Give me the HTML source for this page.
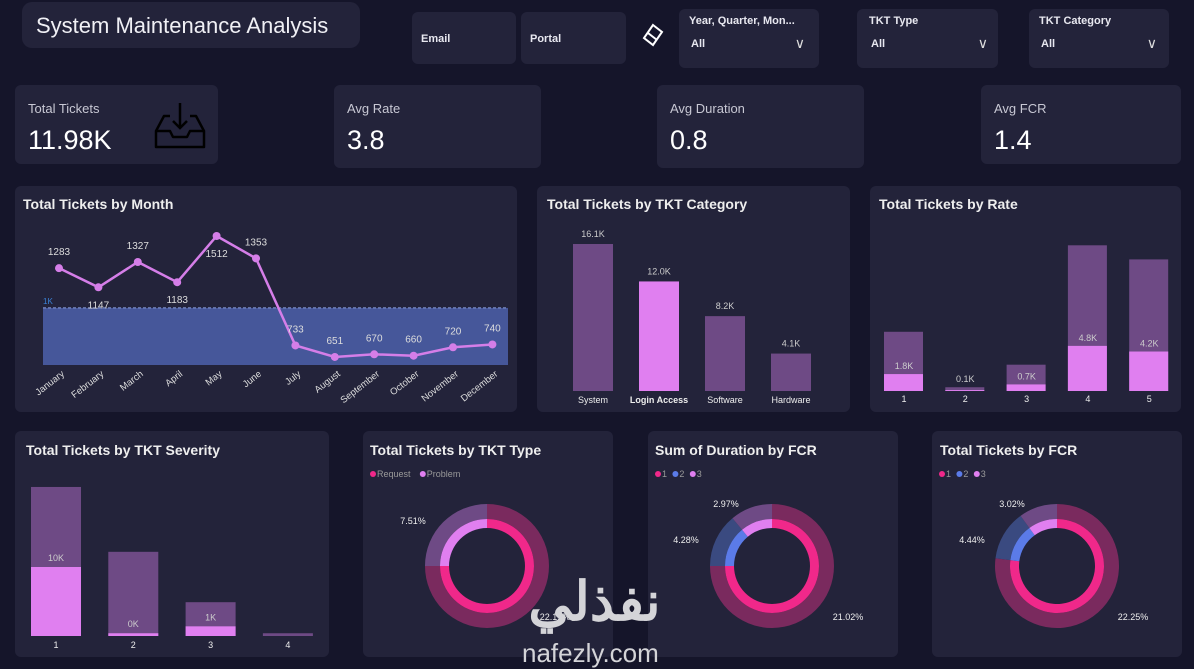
<!DOCTYPE html>
<html><head><meta charset="utf-8"><style>
*{box-sizing:border-box;margin:0;padding:0}
body{width:1194px;height:669px;background:#15152a;font-family:"Liberation Sans",sans-serif;color:#e8e8f0;position:relative;overflow:hidden}
.card{position:absolute;background:#23233a;border-radius:6px}
.ct{position:absolute;left:8px;top:10px;font-size:14px;font-weight:bold;color:#eee}
.kl{position:absolute;left:13px;top:16px;font-size:13px;color:#c8c8d4}
.kv{position:absolute;left:13px;top:40px;font-size:27px;color:#fff}
.fl{position:absolute;font-size:11px;font-weight:bold;color:#e8e8f0}
svg text{font-family:"Liberation Sans",sans-serif}
</style></head><body>
<div class="card" style="left:22px;top:2px;width:338px;height:46px;border-radius:10px"><div style="position:absolute;left:14px;top:11px;font-size:22px;color:#f0f0f5">System Maintenance Analysis</div></div>

<div class="card" style="left:412px;top:12px;width:104px;height:52px"><div class="fl" style="left:9px;top:21px">Email</div></div>
<div class="card" style="left:521px;top:12px;width:105px;height:52px"><div class="fl" style="left:9px;top:21px">Portal</div></div>
<svg style="position:absolute;left:640px;top:22px" width="26" height="26"><path d="M13 3 L22 10 L13 23 L4 16 Z M8 11 L17 18" fill="none" stroke="#fff" stroke-width="2"/></svg>
<div class="card" style="left:679px;top:9px;width:140px;height:59px"><div class="fl" style="left:10px;top:6px">Year, Quarter, Mon...</div><div class="fl" style="left:12px;top:29px">All</div><div style="position:absolute;right:14px;top:26px;font-size:14px;color:#ddd">&#8744;</div></div>
<div class="card" style="left:857px;top:9px;width:141px;height:59px"><div class="fl" style="left:12px;top:6px">TKT Type</div><div class="fl" style="left:14px;top:29px">All</div><div style="position:absolute;right:10px;top:26px;font-size:14px;color:#ddd">&#8744;</div></div>
<div class="card" style="left:1029px;top:9px;width:140px;height:59px"><div class="fl" style="left:10px;top:6px">TKT Category</div><div class="fl" style="left:12px;top:29px">All</div><div style="position:absolute;right:12px;top:26px;font-size:14px;color:#ddd">&#8744;</div></div>

<div class="card" style="left:15px;top:85px;width:203px;height:79px"><div class="kl">Total Tickets</div><div class="kv">11.98K</div>
<svg style="position:absolute;left:138px;top:14px" width="54" height="52"><path d="M17 17 L11 17 L3 32 L3 48 L51 48 L51 32 L43 17 L37 17" fill="none" stroke="#000" stroke-width="2.5" stroke-linejoin="round"/><path d="M3 32 L17 32 L20 38 L34 38 L37 32 L51 32" fill="none" stroke="#000" stroke-width="2.5" stroke-linejoin="round"/><path d="M27 4 L27 29 M20 22 L27 29 L34 22" fill="none" stroke="#000" stroke-width="2.5"/></svg></div>
<div class="card" style="left:334px;top:85px;width:207px;height:83px"><div class="kl">Avg Rate</div><div class="kv">3.8</div></div>
<div class="card" style="left:657px;top:85px;width:207px;height:83px"><div class="kl">Avg Duration</div><div class="kv">0.8</div></div>
<div class="card" style="left:981px;top:85px;width:200px;height:79px"><div class="kl">Avg FCR</div><div class="kv">1.4</div></div>

<div class="card" style="left:15px;top:186px;width:502px;height:226px"><div class="ct">Total Tickets by Month</div></div>
<div class="card" style="left:537px;top:186px;width:313px;height:226px"><div class="ct" style="left:10px">Total Tickets by TKT Category</div></div>
<div class="card" style="left:870px;top:186px;width:311px;height:226px"><div class="ct" style="left:9px">Total Tickets by Rate</div></div>
<div class="card" style="left:15px;top:431px;width:314px;height:226px"><div class="ct" style="left:11px;top:11px">Total Tickets by TKT Severity</div></div>
<div class="card" style="left:363px;top:431px;width:250px;height:226px"><div class="ct" style="left:7px;top:11px">Total Tickets by TKT Type</div></div>
<div class="card" style="left:648px;top:431px;width:250px;height:226px"><div class="ct" style="left:7px;top:11px">Sum of Duration by FCR</div></div>
<div class="card" style="left:932px;top:431px;width:250px;height:226px"><div class="ct" style="left:8px;top:11px">Total Tickets by FCR</div></div>

<svg id="g" style="position:absolute;left:0;top:0" width="1194" height="669"></svg>
<div style="position:absolute;left:522px;top:575px;width:145px;text-align:center;font-family:'Liberation Sans','Noto Sans CJK SC',sans-serif;font-size:54px;font-weight:bold;color:#d4d4d8;line-height:1">نفذلي</div>
<div style="position:absolute;left:522px;top:640px;font-size:26px;color:#d4d4d8;line-height:1">nafezly.com</div>

<script>
const months=["January","February","March","April","May","June","July","August","September","October","November","December"];
const monthVals=[1283,1147,1327,1183,1512,1353,733,651,670,660,720,740];
const catNames=["System","Login Access","Software","Hardware"];
const catVals=[16.1,12.0,8.2,4.1];
const rateNames=["1","2","3","4","5"];
const rateTotal=[6.3,0.4,2.8,15.5,14.0];
const rateSel=[1.8,0.1,0.7,4.8,4.2];
const sevNames=["1","2","3","4"];
const sevTotal=[21.6,12.2,4.9,0.4];
const sevSel=[10,0.4,1.4,0];
const sevLabels=["10K","0K","1K",""];
const typeNames=["Request","Problem"];
const typeVals=[75,25];
const durNames=["1","2","3"];
const durVals=[75,14,11];
const fcrNames=["1","2","3"];
const fcrVals=[77,13,10];

const g=document.getElementById('g');
function el(t,a,txt){const e=document.createElementNS('http://www.w3.org/2000/svg',t);for(const k in a)e.setAttribute(k,a[k]);if(txt!==undefined)e.textContent=txt;g.appendChild(e);return e;}

const mx=i=>59+i*39.4, my=v=>236+(1512-v)*0.1405;
let e=el('rect',{x:43,y:my(1000),width:465,height:365-my(1000),fill:'#46579a'});

e=el('line',{x1:43,x2:508,y1:my(1000),y2:my(1000),stroke:'#8aa0e0','stroke-dasharray':'3,2'});

e=el('text',{x:43,y:my(1000)-4,fill:'#3b82d6','font-size':8},'1K');

e=el('polyline',{points:monthVals.map((v,i)=>mx(i)+','+my(v)).join(' '),fill:'none',stroke:'#d57ee8','stroke-width':2.5});

const below=[1,3,4];
monthVals.forEach((v,i)=>{
 let c=el('circle',{cx:mx(i),cy:my(v),r:4,fill:'#d57ee8'});
 
 let t=el('text',{x:mx(i),y:below.includes(i)?my(v)+21:my(v)-13,fill:'#ddd','font-size':10,'text-anchor':'middle'},v);
 
 let l=el('text',{x:mx(i)+6,y:375,fill:'#ddd','font-size':9.5,'text-anchor':'end',transform:`rotate(-38 ${mx(i)+6} 375)`},months[i]);
 
});

const cb=391, cs=9.13;
catVals.forEach((v,i)=>{
 const x=573+i*66;
 let r=el('rect',{x:x,y:cb-v*cs,width:40,height:v*cs,fill:i==1?'#e07ff0':'#6e4a85'});
 
 let t=el('text',{x:x+20,y:cb-v*cs-7,fill:'#ccc','font-size':9,'text-anchor':'middle'},v.toFixed(1)+'K');
 
 let l=el('text',{x:x+20,y:403,fill:'#eee','font-size':9,'text-anchor':'middle','font-weight':i==1?'bold':'normal'},catNames[i]);
 
});

const rs=9.4;
rateTotal.forEach((v,i)=>{
 const x=884+i*61.3;
 let r=el('rect',{x:x,y:cb-v*rs,width:39,height:v*rs,fill:'#6e4a85'});
 
 let h=el('rect',{x:x,y:cb-rateSel[i]*rs,width:39,height:rateSel[i]*rs,fill:'#e07ff0'});
 
 let ty=Math.min(cb-rateSel[i]*rs-5,cb-9);
 let t=el('text',{x:x+20,y:ty,fill:'#ccc','font-size':9,'text-anchor':'middle'},rateSel[i].toFixed(1)+'K');
 
 let l=el('text',{x:x+20,y:402,fill:'#eee','font-size':9,'text-anchor':'middle'},rateNames[i]);
 
});

const sb=636, ss=6.9;
sevTotal.forEach((v,i)=>{
 const x=31+i*77.3;
 let r=el('rect',{x:x,y:sb-v*ss,width:50,height:v*ss,fill:'#6e4a85'});
 
 let h=el('rect',{x:x,y:sb-sevSel[i]*ss,width:50,height:sevSel[i]*ss,fill:'#e07ff0'});
 
 let t=el('text',{x:x+25,y:Math.min(sb-sevSel[i]*ss-6,sb-8),fill:'#ccc','font-size':9,'text-anchor':'middle'},sevLabels[i]);
 
 let l=el('text',{x:x+25,y:648,fill:'#eee','font-size':9,'text-anchor':'middle'},sevNames[i]);
 
});

function arc(cx,cy,r0,r1,a0,a1){
 const p=(r,a)=>[cx+r*Math.sin(a),cy-r*Math.cos(a)];
 const lg=(a1-a0)>Math.PI?1:0;
 const [x0,y0]=p(r1,a0),[x1,y1]=p(r1,a1),[x2,y2]=p(r0,a1),[x3,y3]=p(r0,a0);
 return `M${x0},${y0} A${r1},${r1} 0 ${lg} 1 ${x1},${y1} L${x2},${y2} A${r0},${r0} 0 ${lg} 0 ${x3},${y3} Z`;
}
function donut(cx,cy,vals,muted,bright,name){
 const tot=vals.reduce((a,b)=>a+b,0);let a=0;
 vals.forEach((v,i)=>{
  const a1=a+v/tot*2*Math.PI;
  let m=el('path',{d:arc(cx,cy,47,62,a,a1),fill:muted[i]});
  
  let b=el('path',{d:arc(cx,cy,38,47,a,a1),fill:bright[i]});
  
  a=a1;
 });
}
const mutedC=['#7a2a5e','#3a4a80','#6e4a85'],brightC=['#f0288a','#5b7be8','#e07ff0'];
donut(487,566,typeVals,['#7a2a5e','#6e4a85'],['#f0288a','#e07ff0'],'type-donut');
donut(772,566,durVals,mutedC,brightC,'duration-donut');
donut(1057,566,fcrVals,mutedC,brightC,'fcr-donut');

function lbl(x,y,t,n){let e=el('text',{x:x,y:y,fill:'#eee','font-size':9,'text-anchor':'middle'},t);}
lbl(413,524,'7.51%','type-pct-label');lbl(555,620,'22.19%','type-pct-label');
lbl(726,507,'2.97%','duration-pct-label');lbl(686,543,'4.28%','duration-pct-label');lbl(848,620,'21.02%','duration-pct-label');
lbl(1012,507,'3.02%','fcr-pct-label');lbl(972,543,'4.44%','fcr-pct-label');lbl(1133,620,'22.25%','fcr-pct-label');

function legend(x,y,names,cols,n){
 let cx=x;
 names.forEach((t,i)=>{
  let c=el('circle',{cx:cx+3,cy:y-3,r:3,fill:cols[i]});
  let tt=el('text',{x:cx+7,y:y,fill:'#999','font-size':9},t);
  cx+=t.length*5.4+12;
 });
}
legend(370,477,typeNames,['#f0288a','#e07ff0'],'type');
legend(655,477,durNames,brightC,'duration');
legend(939,477,fcrNames,brightC,'fcr');
</script>
</body></html>
